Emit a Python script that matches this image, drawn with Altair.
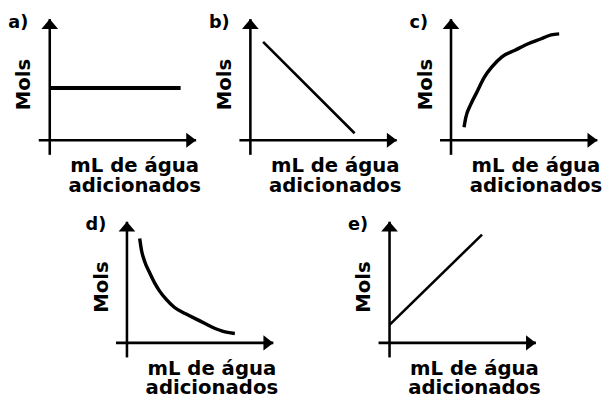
import altair as alt
import pandas as pd

# ---- data (normalised panel units) ----
panel_labels = ["a)", "b)", "c)", "d)", "e)"]
y_title = "Mols"
x_title = ["mL de água", "adicionados"]

a_x = [0.0, 0.894]
a_y = [0.432, 0.432]
b_x = [0.087, 0.712]
b_y = [0.813, 0.058]
c_x = [0.089, 0.101, 0.135, 0.180, 0.224, 0.281, 0.348, 0.437, 0.527, 0.617, 0.684, 0.739]
c_y = [0.107, 0.188, 0.296, 0.405, 0.513, 0.608, 0.689, 0.743, 0.797, 0.838, 0.870, 0.878]
d_x = [0.087, 0.099, 0.121, 0.155, 0.188, 0.222, 0.267, 0.323, 0.401, 0.491, 0.580, 0.670, 0.737]
d_y = [0.862, 0.767, 0.672, 0.578, 0.497, 0.429, 0.361, 0.294, 0.240, 0.186, 0.131, 0.091, 0.078]
e_x = [0.0, 0.632]
e_y = [0.148, 0.894]

# axis extents (drawn axes cross slightly past the origin)
x_axis_ext = [-0.075, 1.0]
y_axis_ext = [-0.12, 1.0]

FONT = "DejaVu Sans"
ARROW_UP = "M0,0L1,1.18L-1,1.18Z"
ARROW_RIGHT = "M0,0L-1.18,-0.9L-1.18,0.9Z"
UNIT_PX = 160 / (x_axis_ext[1] - x_axis_ext[0])


def panel(label, xs, ys, stroke, extra_left=0):
    width = 160 + extra_left
    xscale = alt.Scale(domain=[x_axis_ext[0] - extra_left / UNIT_PX, x_axis_ext[1]],
                       nice=False, zero=False)
    yscale = alt.Scale(domain=y_axis_ext, nice=False, zero=False)
    xaxis = alt.Axis(title=x_title, domain=False, ticks=False, labels=False, grid=False,
                     titleX=extra_left + 97, titleAlign="center", titleBaseline="top",
                     titlePadding=1, titleLineHeight=20)
    yaxis = alt.Axis(title=y_title, domain=False, ticks=False, labels=False, grid=False,
                     titleX=extra_left - 5, titleY=66, titleAlign="center",
                     titleBaseline="bottom", titleAngle=270)
    X = lambda f: alt.X(f, type="quantitative", scale=xscale, axis=xaxis)
    Y = lambda f: alt.Y(f, type="quantitative", scale=yscale, axis=yaxis)

    curve = alt.Chart(pd.DataFrame({"x": xs, "y": ys})).mark_line(
        color="black", strokeWidth=stroke, interpolate="monotone", strokeCap="butt"
    ).encode(x=X("x"), y=Y("y"))

    vdf = pd.DataFrame({"x": [0.0], "y": [y_axis_ext[0]], "y2": [y_axis_ext[1]]})
    vrule = alt.Chart(vdf).mark_rule(color="black", strokeWidth=2.6).encode(
        x=X("x"), y=Y("y"), y2="y2")
    hdf = pd.DataFrame({"x": [x_axis_ext[0]], "x2": [x_axis_ext[1]], "y": [0.0]})
    hrule = alt.Chart(hdf).mark_rule(color="black", strokeWidth=2.6).encode(
        x=X("x"), x2="x2", y=Y("y"))

    up = alt.Chart(pd.DataFrame({"x": [0.0], "y": [y_axis_ext[1]]})).mark_point(
        shape=ARROW_UP, size=289, filled=True, color="black", opacity=1
    ).encode(x=X("x"), y=Y("y"))
    right = alt.Chart(pd.DataFrame({"x": [x_axis_ext[1]], "y": [0.0]})).mark_point(
        shape=ARROW_RIGHT, size=289, filled=True, color="black", opacity=1
    ).encode(x=X("x"), y=Y("y"))

    return alt.layer(vrule, hrule, curve, up, right).properties(
        width=width, height=138,
        title=alt.TitleParams(label, anchor="start", dx=extra_left - 31, dy=12, offset=-2,
                              baseline="top", frame="group"),
    )


pa = panel(panel_labels[0], a_x, a_y, 4)
pb = panel(panel_labels[1], b_x, b_y, 2.6)
pc = panel(panel_labels[2], c_x, c_y, 3.5)
pdd = panel(panel_labels[3], d_x, d_y, 3.5, extra_left=16)
pe = panel(panel_labels[4], e_x, e_y, 2.6)

top = alt.hconcat(pa, pb, pc, spacing=44, bounds="flush")
bottom = alt.hconcat(pdd, pe, spacing=107, bounds="flush")

chart = alt.vconcat(top, bottom, spacing=21, center=True).properties(
    padding={"left": 0, "top": 2, "right": 0, "bottom": 0},
    background="white",
).configure_view(stroke=None).configure_axis(
    titleFont=FONT, titleFontSize=20, titleFontWeight="bold", titleColor="black"
).configure_title(
    font=FONT, fontSize=18, fontWeight="bold", color="black"
)

chart.save("out.html", embed_options={"renderer": "svg", "actions": False})
